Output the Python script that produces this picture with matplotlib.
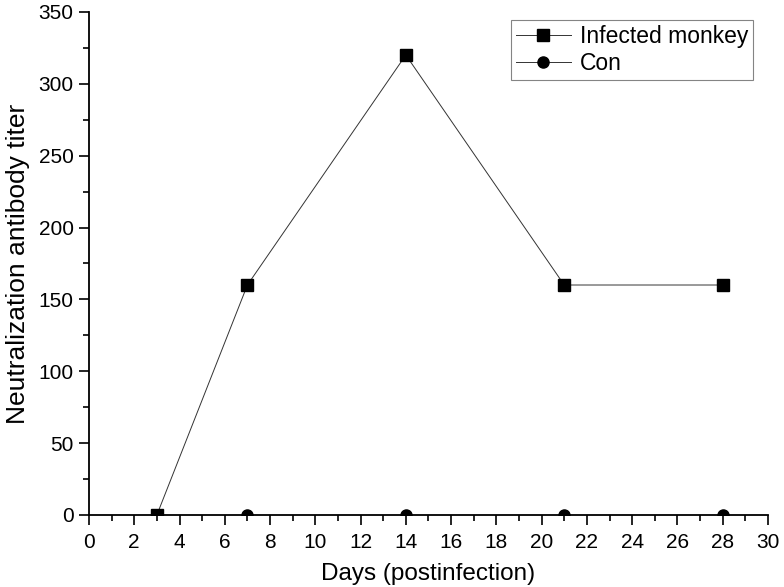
import matplotlib
matplotlib.use('Agg')
import matplotlib.pyplot as plt
from matplotlib.ticker import MultipleLocator

plt.rcParams['font.family'] = ['Liberation Sans', 'DejaVu Sans']

days = [3, 7, 14, 21, 28]
infected = [0, 160, 320, 160, 160]
con_days = [3, 7, 14, 21, 28]
con = [0, 0, 0, 0, 0]

fig = plt.figure(figsize=(7.84, 5.87), dpi=100)
ax = fig.add_axes([0.1135, 0.1227, 0.866, 0.857])

ax.plot(days, infected, color='#333333', linewidth=0.7, marker='s', markersize=8,
        markerfacecolor='black', markeredgecolor='black', label='Infected monkey')
ax.plot(con_days, con, color='#333333', linewidth=0.7, marker='o', markersize=8,
        markerfacecolor='black', markeredgecolor='black', label='Con')

ax.set_xlim(0, 30)
ax.set_ylim(0, 350)
ax.xaxis.set_major_locator(MultipleLocator(2))
ax.xaxis.set_minor_locator(MultipleLocator(1))
ax.yaxis.set_major_locator(MultipleLocator(50))
ax.yaxis.set_minor_locator(MultipleLocator(25))
ax.tick_params(which='major', direction='out', length=7, width=1.2, labelsize=15, pad=4)
ax.tick_params(axis='x', which='major', pad=6)
ax.tick_params(which='minor', direction='out', length=4.5, width=1.2)

ax.spines['top'].set_visible(False)
ax.spines['right'].set_visible(False)
ax.spines['left'].set_linewidth(1.3)
ax.spines['bottom'].set_linewidth(1.3)

ax.set_xlabel('Days (postinfection)', fontsize=17.5, labelpad=8)
ax.set_ylabel('Neutralization antibody titer', fontsize=19, labelpad=6)

leg = ax.legend(loc='upper right', fontsize=16.5, frameon=True, fancybox=False,
                edgecolor='#666666', handlelength=2.4, borderpad=0.2,
                labelspacing=0.2, handletextpad=0.4, borderaxespad=0,
                bbox_to_anchor=(0.978, 0.984))
leg.get_frame().set_linewidth(0.8)

fig.savefig('out.png', dpi=100)
